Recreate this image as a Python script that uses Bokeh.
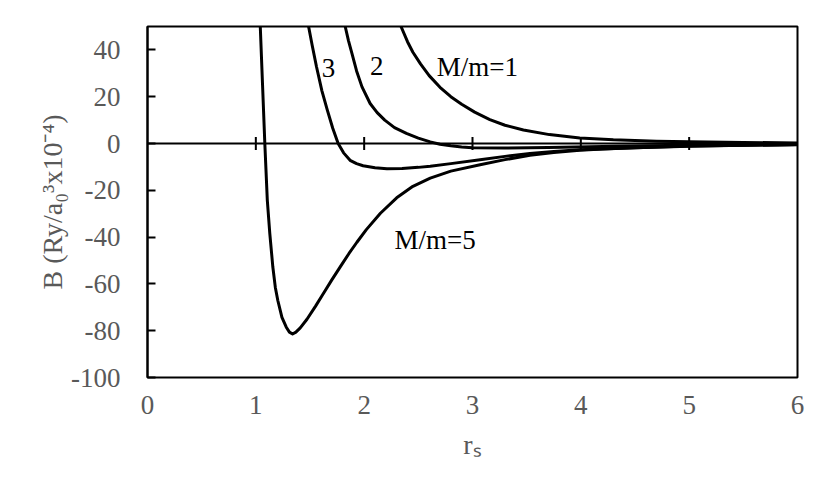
import math
from bokeh.plotting import figure
from bokeh.models import Span, FixedTicker, ColumnDataSource
from bokeh.core.properties import value
from bokeh.embed import file_html
from bokeh.resources import INLINE

# ---- data ----
x_m1 = [2.28, 2.34, 2.40, 2.45, 2.52, 2.60, 2.70, 2.80, 2.90, 3.02, 3.16, 3.30, 3.47, 3.71,
        3.99, 4.3, 4.7, 5.0, 5.5, 6.0]
y_m1 = [57, 50, 43.5, 39, 34, 29, 24, 20, 16.8, 13.4, 10.2, 7.8, 5.8, 3.8,
        2.4, 1.6, 1.0, 0.75, 0.45, 0.25]

x_m2 = [1.80, 1.825, 1.855, 1.887, 1.93, 1.98, 2.055, 2.12, 2.19, 2.28, 2.39, 2.5, 2.61, 2.7,
        2.80, 2.9, 3.0, 3.3, 3.7, 4.2, 4.6, 5.0, 5.5, 6.0]
y_m2 = [56, 50, 44, 38.5, 31, 24.2, 17.1, 13.2, 10, 6.8, 4.3, 2.3, 0.7, -0.3,
        -1.0, -1.5, -1.8, -1.9, -1.7, -1.3, -1.0, -0.8, -0.6, -0.4]

x_m3 = [1.46, 1.487, 1.52, 1.56, 1.61, 1.66, 1.71, 1.76, 1.81, 1.87, 1.93, 1.99, 2.1, 2.21,
        2.35, 2.5, 2.61, 2.8, 3.07, 3.3, 3.53, 3.75, 3.99, 4.5, 5.0, 5.5, 6.0]
y_m3 = [57, 50, 42, 32.8, 22.5, 14.3, 6.5, 0, -4, -7.2, -8.6, -9.5, -10.4, -10.8,
        -10.7, -10.2, -9.7, -8.6, -6.9, -5.5, -4.3, -3.4, -2.7, -1.8, -1.2, -0.8, -0.5]

x_m5 = [1.03, 1.041, 1.062, 1.083, 1.106, 1.129, 1.157, 1.18, 1.203, 1.241, 1.281, 1.31, 1.339,
        1.37, 1.41, 1.472, 1.55, 1.625, 1.70, 1.779, 1.86, 1.933, 2.02, 2.15, 2.30, 2.45, 2.61,
        2.80, 3.07, 3.3, 3.53, 3.75, 3.99, 4.2, 4.5, 5.0, 5.5, 6.0]
y_m5 = [62, 50, 25, 0, -24.3, -38.5, -52.8, -61.5, -67.1, -74.3, -78.5, -80.6, -81.4,
        -80.6, -78.8, -75.1, -69.6, -64, -58.4, -52.7, -47, -42.2, -36.8, -29.8, -23.2, -18.3, -14.8,
        -11.8, -9.1, -6.9, -5, -3.9, -2.9, -2.3, -1.8, -1.1, -0.7, -0.4]

x_ticks = [0, 1, 2, 3, 4, 5, 6]
y_ticks = [-100, -80, -60, -40, -20, 0, 20, 40]
zero_ticks = [1, 2, 3, 4, 5]

curve_labels = ["3", "2", "M/m=1", "M/m=5"]

FONT = "Liberation Serif"
GRAY = "#595959"

p = figure(width=814, height=482, output_backend="svg", toolbar_location=None,
           x_range=(0, 6), y_range=(-100, 50),
           min_border_left=147, min_border_right=17, min_border_top=26, min_border_bottom=105)
p.background_fill_color = "white"
p.border_fill_color = "white"
p.grid.visible = False
p.outline_line_color = "black"
p.outline_line_width = 2

# y axis
ya = p.yaxis[0]
ya.ticker = FixedTicker(ticks=y_ticks)
ya.major_label_overrides = {t: str(t) for t in y_ticks}
ya.major_tick_in = 8
ya.major_tick_out = 0
ya.minor_tick_line_color = None
ya.axis_line_color = "black"
ya.axis_line_width = 2
ya.major_tick_line_width = 2
ya.major_label_standoff = 27
ya.major_label_text_font = FONT
ya.major_label_text_font_size = "27px"
ya.major_label_text_color = GRAY
ya.axis_label = "B (Ry/a\u2080\u00b3x10\u207b\u2074)"
ya.axis_label_text_font = FONT
ya.axis_label_text_font_size = "28px"
ya.axis_label_text_font_style = "normal"
ya.axis_label_text_color = GRAY
ya.axis_label_standoff = 0

# x axis (labels low, ticks on zero line drawn separately)
xa = p.xaxis[0]
xa.ticker = FixedTicker(ticks=x_ticks)
xa.major_label_overrides = {t: str(t) for t in x_ticks}
xa.major_tick_in = 0
xa.major_tick_out = 0
xa.minor_tick_line_color = None
xa.axis_line_color = None
xa.major_label_standoff = 18
xa.major_label_text_font = FONT
xa.major_label_text_font_size = "27px"
xa.major_label_text_color = GRAY
xa.axis_label = "r\u209b"
xa.axis_label_text_font = FONT
xa.axis_label_text_font_size = "28px"
xa.axis_label_text_font_style = "normal"
xa.axis_label_text_color = GRAY
xa.axis_label_standoff = 12

# zero line and its ticks
p.add_layout(Span(location=0, dimension="width", line_color="black", line_width=2))
p.scatter(x=zero_ticks, y=[0] * len(zero_ticks), marker="dash", angle=math.pi / 2,
          size=13, line_color="black", line_width=2)

for xs, ys in [(x_m1, y_m1), (x_m2, y_m2), (x_m3, y_m3), (x_m5, y_m5)]:
    p.line(xs, ys, line_color="black", line_width=3, line_join="round")

lab_src = ColumnDataSource(dict(x=[1.671, 2.117, 3.046, 2.654], y=[32.1, 33.2, 32.8, -41.4],
                                text=curve_labels))
p.text(x="x", y="y", text="text", source=lab_src, text_font=value(FONT),
       text_font_size="27px", text_color="black", text_align="center",
       text_baseline="alphabetic")

open("out.html", "w").write(file_html(p, INLINE))
